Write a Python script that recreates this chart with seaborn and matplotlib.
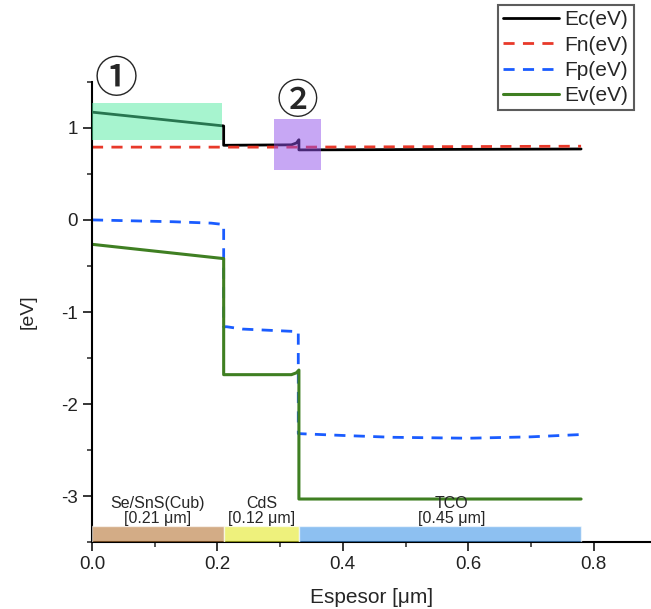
import seaborn as sns
import matplotlib.pyplot as plt
import numpy as np
from matplotlib.ticker import MultipleLocator, FormatStrFormatter

sns.set_style("ticks")
plt.rcParams['font.family'] = ['Liberation Sans', 'DejaVu Sans', 'Noto Sans CJK JP']
plt.rcParams['axes.unicode_minus'] = False

# band diagram (x in um, energies in eV)
ec_x = [0, 0.21, 0.21, 0.318, 0.326, 0.33, 0.33, 0.55, 0.78]
ec_y = [1.17, 1.02, 0.81, 0.815, 0.835, 0.87, 0.76, 0.765, 0.77]
fn_x = [0, 0.21, 0.33, 0.55, 0.78]
fn_y = [0.79, 0.79, 0.79, 0.795, 0.80]
fp_x = [0, 0.13, 0.19, 0.21, 0.21, 0.215, 0.24, 0.32, 0.329, 0.329, 0.4, 0.48, 0.6, 0.7, 0.78]
fp_y = [0.0, -0.02, -0.035, -0.05, -1.16, -1.16, -1.185, -1.21, -1.21, -2.32, -2.34, -2.36, -2.37, -2.355, -2.33]
ev_x = [0, 0.21, 0.21, 0.318, 0.326, 0.33, 0.33, 0.78]
ev_y = [-0.265, -0.42, -1.68, -1.68, -1.66, -1.63, -3.03, -3.03]

layers = ['Se/SnS(Cub)', 'CdS', 'TCO']
thickness = [0.21, 0.12, 0.45]
layer_colors = ['#b77635', '#e3e925', '#4196e9']

fig = plt.figure(figsize=(6.51, 6.09), dpi=100)
ax = fig.add_axes([0.1413, 0.1095, 0.8587, 0.7563])

sns.lineplot(x=ec_x, y=ec_y, estimator=None, sort=False, color='black', lw=2, label='Ec(eV)', ax=ax)
sns.lineplot(x=fn_x, y=fn_y, estimator=None, sort=False, color='#e8392a', lw=2,
             linestyle=(0, (4, 3)), label='Fn(eV)', ax=ax)
sns.lineplot(x=fp_x, y=fp_y, estimator=None, sort=False, color='#1a5cff', lw=2,
             linestyle=(0, (4, 3)), label='Fp(eV)', ax=ax)
sns.lineplot(x=ev_x, y=ev_y, estimator=None, sort=False, color='#3f7f22', lw=2.2, label='Ev(eV)', ax=ax)

# highlighted regions
ax.fill_between([0, 0.208], 0.87, 1.265, color='#50eba0', alpha=0.5, lw=0, zorder=5)
ax.fill_between([0.29, 0.365], 0.54, 1.10, color='#9150eb', alpha=0.5, lw=0, zorder=5)
ax.text(0.038, 1.52, '①', fontsize=31, fontweight='medium', ha='center', va='center',
        family=['Noto Sans CJK JP', 'DejaVu Sans'])
ax.text(0.327, 1.29, '②', fontsize=30, fontweight='medium', ha='center', va='center',
        family=['Noto Sans CJK JP', 'DejaVu Sans'])

# layer stack along the bottom
starts = np.concatenate([[0], np.cumsum(thickness)[:-1]])
ax.barh(-3.45, thickness, left=starts, height=0.25, color=layer_colors, alpha=0.6, zorder=3)
label_x = [0.105, 0.271, 0.573]
for name, t, lx in zip(layers, thickness, label_x):
    ax.text(lx, -3.16, f'{name}\n[{t:.2f} μm]', ha='center', va='center', fontsize=11.5, linespacing=1.05)

ax.set_xlim(0, 0.8915)
ax.set_ylim(-3.5, 1.5)
ax.xaxis.set_major_locator(MultipleLocator(0.2))
ax.xaxis.set_minor_locator(MultipleLocator(0.1))
ax.xaxis.set_major_formatter(FormatStrFormatter('%.1f'))
ax.yaxis.set_major_locator(MultipleLocator(1))
ax.yaxis.set_minor_locator(MultipleLocator(0.5))
ax.tick_params(which='major', length=6.5, width=1.1, labelsize=13.5, colors='black', labelcolor='#222222')
ax.tick_params(which='minor', length=3.5, width=1.1)
for s in ['top', 'right']:
    ax.spines[s].set_visible(False)
for s in ['left', 'bottom']:
    ax.spines[s].set_linewidth(1.5)
    ax.spines[s].set_color('black')

ax.set_xlabel('Espesor [μm]', fontsize=15, labelpad=11)
ax.set_ylabel('[eV]', fontsize=14, labelpad=18)

leg = ax.legend(loc='upper left', bbox_to_anchor=(0.726, 1.166), fontsize=15, frameon=True,
                fancybox=False, edgecolor='#333333', handlelength=2.7, handletextpad=0.25,
                labelspacing=0.3, borderpad=0.25, borderaxespad=0)
leg.get_frame().set_linewidth(1.5)

fig.savefig('out.png', dpi=100)
